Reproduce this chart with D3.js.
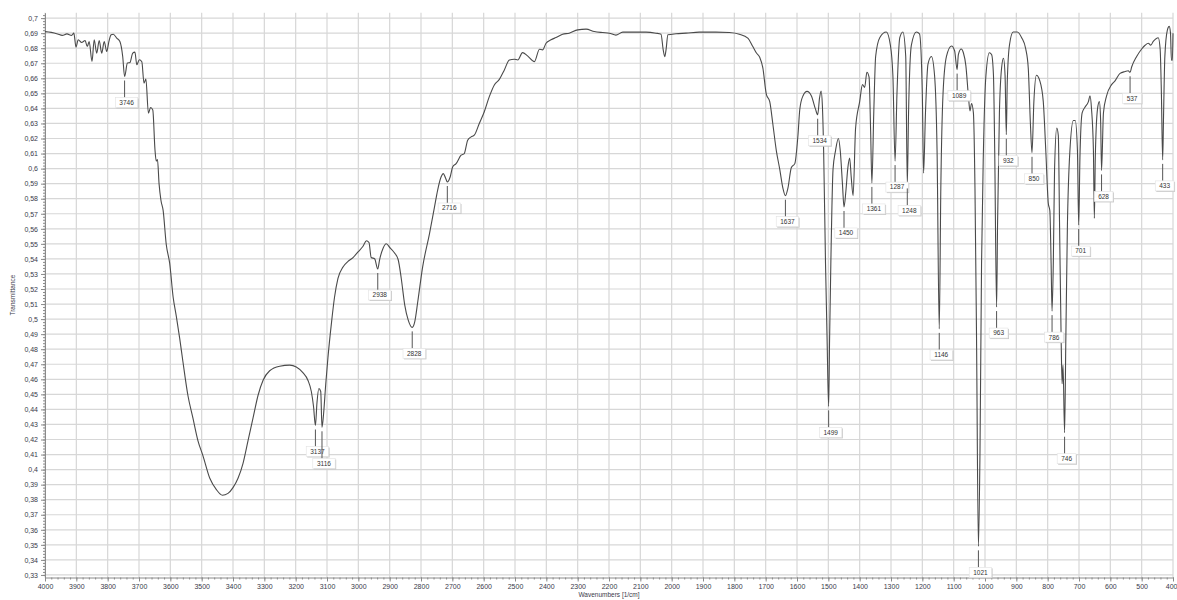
<!DOCTYPE html>
<html>
<head>
<meta charset="utf-8">
<script src="https://cdn.jsdelivr.net/npm/d3@7"></script>
<style>
  body { margin: 0; background: #fff; }
  svg { display: block; font-family: "Liberation Sans", Arial, sans-serif; }
</style>
</head>
<body>
<svg width="1177" height="600"></svg>
<script>
// spectrum: wavenumber [1/cm] and transmittance
var wavenumbers = [4000,3980,3960,3945,3930,3915,3908,3901,3894,3883,3872,3865,3859,3850,3843,3835,3827,3819,3811,3803,3796,3789,3782,3771,3761,3752,3746,3737,3729,3720,3713,3707,3699,3691,3684,3678,3670,3663,3656,3649,3645,3641,3636,3630,3623,3613,3602,3591,3581,3570,3560,3544,3528,3512,3496,3474,3453,3434,3416,3400,3384,3368,3352,3336,3320,3304,3283,3251,3219,3198,3177,3161,3150,3143,3137,3132,3126,3120,3116,3111,3104,3097,3086,3076,3065,3049,3033,3017,3001,2985,2974,2966,2959,2948,2938,2932,2921,2911,2898,2887,2873,2863,2852,2841,2828,2820,2810,2795,2773,2757,2747,2736,2729,2722,2716,2707,2699,2688,2672,2662,2651,2640,2630,2614,2598,2582,2566,2550,2534,2518,2502,2491,2476,2460,2438,2422,2412,2401,2385,2369,2348,2327,2300,2273,2247,2220,2199,2178,2156,2124,2082,2050,2034,2027,2022,2018,2012,1986,1954,1912,1859,1816,1784,1757,1741,1730,1719,1709,1698,1687,1677,1666,1655,1645,1637,1629,1618,1607,1597,1591,1581,1568,1554,1541,1534,1528,1523,1519,1515,1509,1504,1499,1496,1492,1485,1477,1468,1462,1455,1450,1444,1438,1432,1427,1421,1413,1400,1391,1384,1377,1370,1365,1361,1355,1349,1336,1315,1302,1294,1287,1281,1272,1262,1253,1248,1244,1235,1219,1209,1200,1196,1190,1182,1171,1161,1153,1146,1141,1134,1123,1107,1097,1089,1085,1076,1069,1061,1053,1048,1043,1037,1032,1027,1021,1016,1011,1005,997,986,979,973,969,963,960,954,947,941,936,932,929,922,910,897,883,870,862,855,850,844,836,825,814,806,798,793,789,786,782,778,771,766,762,757,754,751,746,742,737,729,718,712,705,701,697,690,681,670,665,660,654,651,648,641,635,631,628,622,612,596,585,569,553,543,537,532,516,500,489,479,471,463,447,441,437,433,430,426,418,412,408,405,402,400];
var transmittance = [0.691,0.6905,0.6895,0.6885,0.6895,0.6885,0.690,0.6807,0.6856,0.6838,0.6851,0.6811,0.6845,0.6712,0.6856,0.6767,0.6851,0.6767,0.6845,0.6778,0.6845,0.6889,0.6893,0.6867,0.6845,0.6745,0.6612,0.6701,0.6705,0.6767,0.6774,0.669,0.6723,0.671,0.6568,0.6595,0.6369,0.6406,0.639,0.6125,0.605,0.606,0.590,0.579,0.5722,0.5496,0.537,0.5145,0.502,0.487,0.472,0.4494,0.4343,0.4193,0.4093,0.3942,0.3867,0.383,0.3842,0.388,0.3942,0.4042,0.4193,0.4343,0.4494,0.4594,0.4657,0.4687,0.4694,0.4682,0.4644,0.4594,0.4519,0.4419,0.4293,0.4444,0.4539,0.4519,0.4281,0.4368,0.4569,0.4744,0.497,0.5145,0.527,0.5346,0.5383,0.5409,0.5446,0.5484,0.5521,0.5509,0.5409,0.5401,0.5333,0.5396,0.5471,0.5501,0.5471,0.5446,0.5396,0.527,0.5095,0.4995,0.4945,0.4982,0.512,0.5344,0.5567,0.5744,0.5856,0.5944,0.5967,0.594,0.5911,0.5944,0.6011,0.6033,0.6089,0.61,0.6189,0.6211,0.6222,0.63,0.6378,0.6478,0.6556,0.6593,0.6656,0.6722,0.6727,0.6722,0.6771,0.6749,0.6711,0.6793,0.6789,0.6833,0.6856,0.6871,0.6893,0.69,0.6922,0.6927,0.6911,0.6904,0.69,0.6887,0.6907,0.6907,0.6907,0.69,0.6893,0.6789,0.6744,0.6789,0.6889,0.6896,0.69,0.6907,0.6907,0.6904,0.6893,0.6867,0.6811,0.677,0.674,0.667,0.6495,0.6445,0.6295,0.612,0.5995,0.587,0.582,0.587,0.6008,0.6033,0.622,0.6395,0.6483,0.6513,0.6483,0.6395,0.6358,0.647,0.6515,0.642,0.612,0.537,0.487,0.442,0.487,0.537,0.5995,0.612,0.62,0.612,0.59,0.5745,0.585,0.6,0.607,0.5945,0.582,0.627,0.6445,0.6558,0.654,0.664,0.6608,0.625,0.5905,0.637,0.6745,0.687,0.6908,0.682,0.662,0.605,0.6495,0.687,0.6908,0.6745,0.5895,0.637,0.682,0.6908,0.6895,0.6495,0.597,0.637,0.6695,0.6745,0.662,0.612,0.4935,0.587,0.6495,0.6745,0.6815,0.6783,0.6658,0.6758,0.6795,0.677,0.6683,0.6483,0.6383,0.6433,0.637,0.587,0.487,0.349,0.412,0.537,0.612,0.662,0.677,0.6758,0.662,0.612,0.508,0.562,0.637,0.667,0.6733,0.662,0.6225,0.657,0.682,0.6908,0.6908,0.687,0.6795,0.667,0.6295,0.6105,0.6445,0.662,0.6583,0.6445,0.612,0.577,0.572,0.537,0.5053,0.537,0.5995,0.627,0.622,0.562,0.487,0.457,0.4695,0.4245,0.487,0.562,0.612,0.632,0.632,0.612,0.5625,0.607,0.637,0.6408,0.6445,0.6483,0.6395,0.612,0.567,0.607,0.6395,0.6445,0.632,0.5988,0.637,0.6483,0.6558,0.6583,0.6633,0.6645,0.665,0.664,0.6675,0.6745,0.6795,0.682,0.6833,0.682,0.6845,0.687,0.6795,0.6495,0.6058,0.637,0.6745,0.692,0.6945,0.69,0.672,0.672,0.69];

// labelled peaks
var peakWavenumbers = [3746,3137,3116,2938,2828,2716,1637,1534,1499,1450,1361,1287,1248,1146,1089,1021,963,932,850,786,746,701,628,537,433];

// axis ticks
var xTicks = d3.range(4000, 399, -100);
var xMinorTicks = d3.range(4000, 399, -20);
var yTicks = d3.range(33, 71).map(function(d) { return d / 100; });
var yMinorTicks = d3.range(330, 704, 2).map(function(d) { return d / 1000; });

var svg = d3.select("svg");
var margin = {top: 12.7, right: 4, bottom: 22.5, left: 45},
    width = 1177 - margin.left - margin.right,
    height = 600 - margin.top - margin.bottom;

var x = d3.scaleLinear().domain([4000, 400]).range([margin.left, margin.left + width]);
var y = d3.scaleLinear().domain([0.3283, 0.7036]).range([margin.top + height, margin.top]);

var fmt = function(d) { return String(+d.toFixed(2)).replace(".", ","); };

// grid
var grid = svg.append("g").attr("class", "grid");
grid.selectAll(".gx").data(xTicks).enter().append("line")
    .attr("x1", function(d) { return x(d); }).attr("x2", function(d) { return x(d); })
    .attr("y1", margin.top).attr("y2", margin.top + height)
    .attr("stroke", "#d7d7d7").attr("stroke-width", 1.2);
grid.selectAll(".gy").data(yTicks).enter().append("line")
    .attr("x1", margin.left).attr("x2", margin.left + width)
    .attr("y1", function(d) { return y(d); }).attr("y2", function(d) { return y(d); })
    .attr("stroke", "#d7d7d7").attr("stroke-width", 1.2);

// x axis
var xAxis = svg.append("g")
    .attr("transform", "translate(0," + (margin.top + height) + ")")
    .call(d3.axisBottom(x).tickValues(xTicks).tickFormat(d3.format("d")).tickSize(4).tickSizeOuter(0).tickPadding(3));
// keep the last label inside the window
xAxis.selectAll(".tick text").filter(function(d) { return d === 400; })
    .style("text-anchor", "end").attr("dx", "4px");
svg.append("g")
    .attr("transform", "translate(0," + (margin.top + height) + ")")
    .call(d3.axisBottom(x).tickValues(xMinorTicks).tickSize(2).tickFormat("").tickSizeOuter(0))
    .select(".domain").remove();

// y axis
var yAxis = svg.append("g")
    .attr("transform", "translate(" + margin.left + ",0)")
    .call(d3.axisLeft(y).tickValues(yTicks).tickFormat(fmt).tickSize(4).tickSizeOuter(0).tickPadding(3));
svg.append("g")
    .attr("transform", "translate(" + margin.left + ",0)")
    .call(d3.axisLeft(y).tickValues(yMinorTicks).tickSize(2).tickFormat("").tickSizeOuter(0))
    .select(".domain").remove();

svg.selectAll(".domain").attr("stroke", "#8a8a8a");
svg.selectAll(".tick line").attr("stroke", "#8a8a8a");
svg.selectAll(".tick text").attr("fill", "#3a3a4a").style("font-size", "7px")
    .style("font-family", "'Liberation Sans', Arial, sans-serif");

// axis titles
svg.append("text")
    .attr("transform", "translate(15," + (margin.top + height / 2) + ") rotate(-90)")
    .style("text-anchor", "middle")
    .style("font-size", "6.5px")
    .attr("fill", "#3a3a4a")
    .text("Transmittance");
svg.append("text")
    .attr("x", margin.left + width / 2)
    .attr("y", 597)
    .style("text-anchor", "middle")
    .style("font-size", "6.5px")
    .attr("fill", "#3a3a4a")
    .text("Wavenumbers [1/cm]");

// spectrum line
var spectrum = wavenumbers.map(function(w, i) { return {w: w, t: transmittance[i]}; });
var line = d3.line()
    .x(function(d) { return x(d.w); })
    .y(function(d) { return y(d.t); })
    .curve(d3.curveMonotoneX);
svg.append("path")
    .datum(spectrum)
    .attr("d", line)
    .attr("fill", "none")
    .attr("stroke", "#4a4a4a")
    .attr("stroke-width", 1.1)
    .attr("stroke-linejoin", "round");

// peak markers and labels
var placed = [];
var labels = svg.append("g").attr("class", "peaks");
peakWavenumbers.forEach(function(w) {
  var p = spectrum.reduce(function(a, b) { return Math.abs(b.w - w) < Math.abs(a.w - w) ? b : a; });
  var px = x(p.w), py = y(p.t);
  var txt = String(w);
  var bw = txt.length * 3.6 + 8, bh = 10;
  var cx = px + 2, cy = py + 26;
  placed.forEach(function(q) {
    if (Math.abs(q.cx - cx) < (q.bw + bw) / 2 && Math.abs(q.cy - cy) < bh + 1) cy = q.cy + bh + 2;
  });
  placed.push({cx: cx, cy: cy, bw: bw});

  labels.append("line")
      .attr("x1", px).attr("x2", px)
      .attr("y1", py + 4).attr("y2", cy - bh / 2)
      .attr("stroke", "#555").attr("stroke-width", 1);
  labels.append("rect")
      .attr("x", cx - bw / 2 + 1).attr("y", cy - bh / 2 + 1)
      .attr("width", bw).attr("height", bh)
      .attr("fill", "#c8c8c8");
  labels.append("rect")
      .attr("x", cx - bw / 2).attr("y", cy - bh / 2)
      .attr("width", bw).attr("height", bh)
      .attr("fill", "#fff").attr("stroke", "#e2e2e2").attr("stroke-width", 0.6);
  labels.append("text")
      .attr("x", cx).attr("y", cy + 2.4)
      .style("text-anchor", "middle")
      .style("font-size", "6.5px")
      .attr("fill", "#333")
      .text(txt);
});
</script>
</body>
</html>
